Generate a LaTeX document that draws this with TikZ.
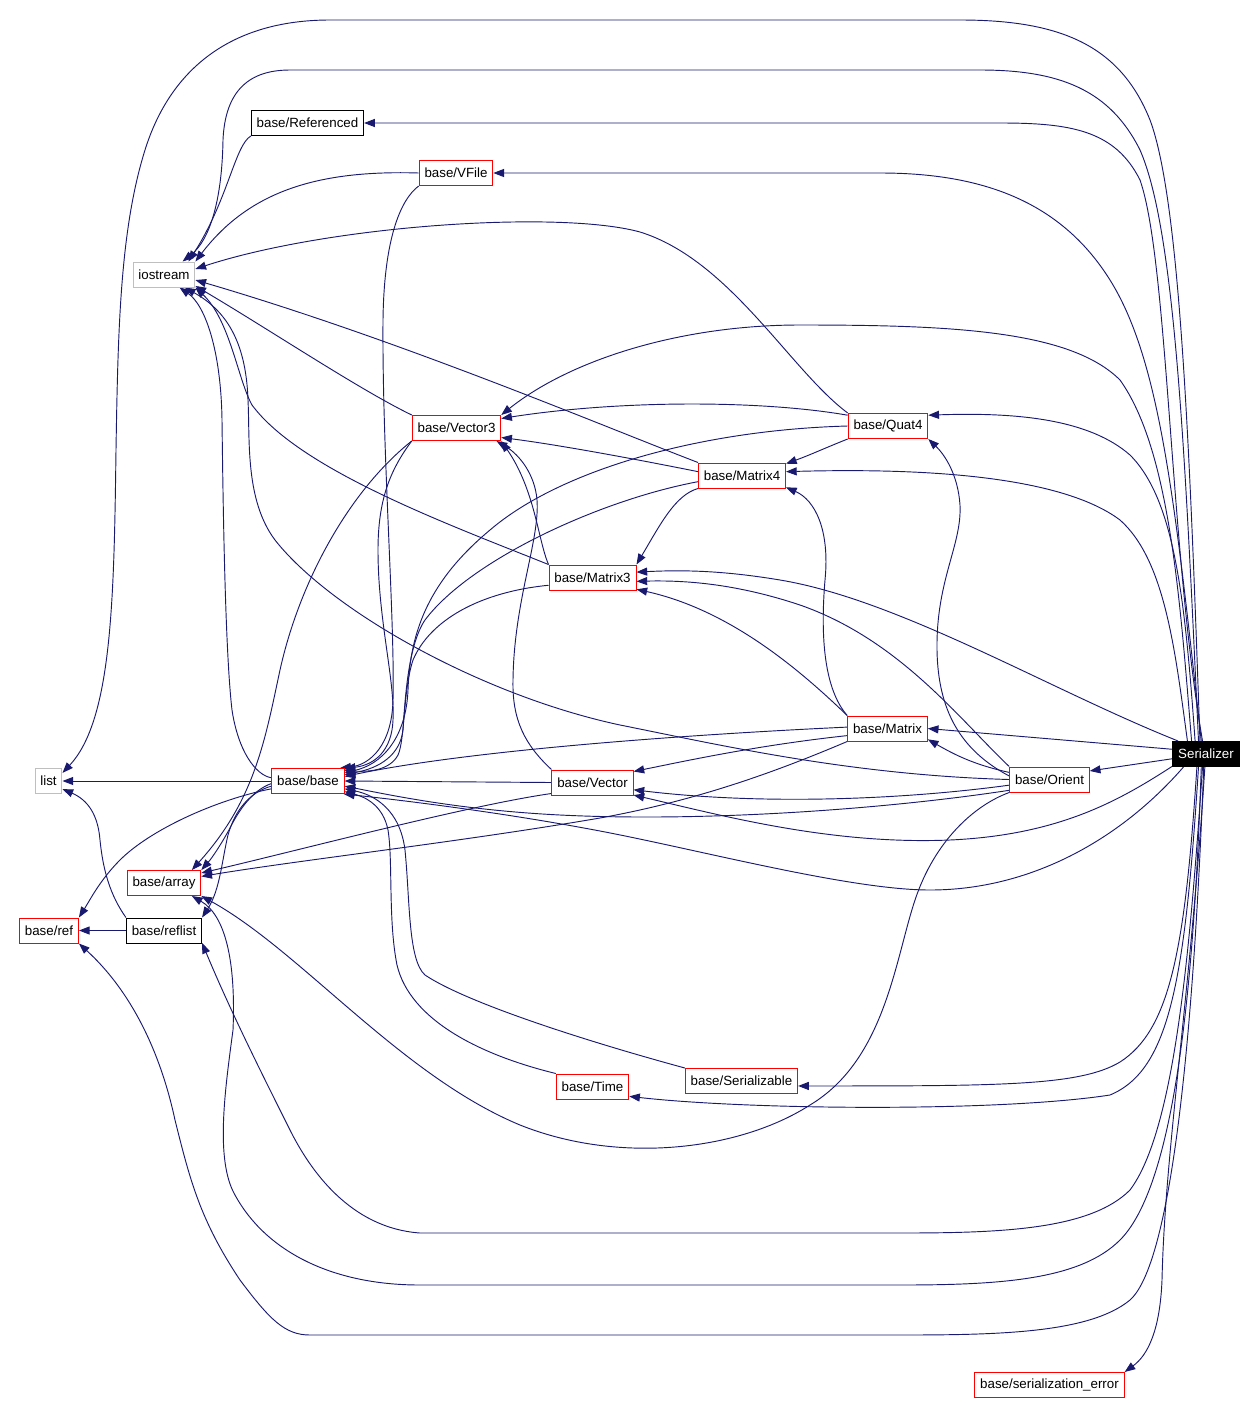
\documentclass[tikz,border=0pt]{standalone}
\usepackage{fontspec}
\setmainfont{Liberation Sans}
\usetikzlibrary{arrows.meta, backgrounds}
\definecolor{edgeblue}{HTML}{191970}
\definecolor{sysgray}{HTML}{BFBFBF}

\begin{document}
\begin{tikzpicture}[x=0.75pt, y=-0.75pt,
  file/.style={draw=red, fill=white, minimum height=18.75pt, inner xsep=4pt, inner ysep=1pt,
               line width=0.75pt, font=\fontsize{10pt}{12pt}\selectfont},
  plainfile/.style={file, draw=black},
  sysfile/.style={file, draw=sysgray},
  rootfile/.style={file, draw=black, fill=black, text=white},
  dep/.style={-{Triangle[length=8pt,width=6pt]}, draw=edgeblue, line width=0.7pt},
]
\useasboundingbox (0,0) rectangle (1256,1403);

% Root
\node[rootfile] (ser) at (1206,754) {Serializer};

% Headers
\node[plainfile] (refd) at (307.5,123) {base/Referenced};
\node[file] (vfile) at (456,173) {base/VFile};
\node[sysfile] (iostr) at (164,274.5) {iostream};
\node[file] (vec3) at (456.5,428) {base/Vector3};
\node[file] (quat4) at (888,426) {base/Quat4};
\node[file] (mat4) at (742,475.5) {base/Matrix4};
\node[file] (mat3) at (592.5,577.5) {base/Matrix3};
\node[file] (bmatrix) at (887.5,728.5) {base/Matrix};
\node[file] (orient) at (1049.5,779.5) {base/Orient};
\node[file] (bbase) at (308,781) {base/base};
\node[file] (bvector) at (592.5,782.5) {base/Vector};
\node[sysfile] (lst) at (48.5,781) {list};
\node[file] (barray) at (164,883) {base/array};
\node[file] (bref) at (49,930.5) {base/ref};
\node[plainfile] (breflist) at (164,930.5) {base/reflist};
\node[file] (btime) at (592.5,1086.5) {base/Time};
\node[file] (serial) at (741.5,1081) {base/Serializable};
\node[file] (serr) at (1049.5,1385) {base/serialization\_error};

\begin{scope}[on background layer]
% Serializer includes
\draw[dep] (ser.105) .. controls (1170,550) and (1168,260) .. (1140,180) .. controls (1115,130) and (1070,123) .. (1000,123) -- (refd.east);
\draw[dep] (ser.110) .. controls (1175,500) and (1160,360) .. (1110,280) .. controls (1060,200) and (980,173) .. (880,173) -- (vfile.east);
\draw[dep] (ser.115) .. controls (1190,450) and (1180,200) .. (1150,120) .. controls (1120,45) and (1060,20) .. (960,20) -- (330,20) .. controls (230,20) and (170,70) .. (145,150) .. controls (120,230) and (118,330) .. (116,450) .. controls (114,600) and (112,720) .. (lst.30);
\draw[dep] (ser.120) .. controls (1185,450) and (1175,230) .. (1140,150) .. controls (1110,90) and (1060,70) .. (980,70) -- (290,70) .. controls (245,70) and (225,95) .. (223,140) .. controls (222,200) and (210,240) .. (iostr.35);
\draw[dep] (ser.130) .. controls (1185,600) and (1175,500) .. (1130,455) .. controls (1090,420) and (1020,412) .. (quat4.15);
\draw[dep] (ser.145) .. controls (1175,650) and (1165,560) .. (1120,520) .. controls (1060,475) and (920,468) .. (mat4.5);
\draw[dep] (ser.138) .. controls (1180,600) and (1170,450) .. (1120,380) .. controls (1070,330) and (950,325) .. (800,325) .. controls (680,325) and (570,360) .. (vec3.north east);
\draw[dep] (ser.155) .. controls (1050,690) and (900,600) .. (780,580) .. controls (720,570) and (680,570) .. (mat3.7);
\draw[dep] (ser.172) -- (bmatrix.east);
\draw[dep] (ser.188) -- (orient.12);
\draw[dep] (ser.200) .. controls (1120,800) and (1060,835) .. (950,840) .. controls (830,845) and (720,815) .. (bvector.-17);
\draw[dep] (ser.-150) .. controls (1120,840) and (1030,890) .. (930,890) .. controls (850,890) and (700,850) .. (600,831) .. controls (500,812) and (400,800) .. (bbase.-20);
\draw[dep] (ser.-110) .. controls (1195,950) and (1180,1180) .. (1120,1240) .. controls (1080,1280) and (1000,1285) .. (900,1285) -- (420,1285) .. controls (330,1285) and (265,1250) .. (235,1195) .. controls (215,1160) and (225,1090) .. (233,1030) .. controls (236,960) and (225,915) .. (barray.-25);
\draw[dep] (ser.-105) .. controls (1190,950) and (1175,1130) .. (1130,1190) .. controls (1090,1230) and (1000,1233) .. (900,1233) -- (420,1233) .. controls (350,1228) and (310,1170) .. (290,1130) .. controls (260,1070) and (230,1010) .. (breflist.-18);
\draw[dep] (ser.-100) .. controls (1195,1000) and (1175,1260) .. (1130,1300) .. controls (1090,1333) and (1000,1335) .. (900,1335) -- (310,1335) .. controls (285,1335) and (270,1320) .. (240,1280) .. controls (200,1220) and (190,1180) .. (175,1120) .. controls (160,1050) and (130,990) .. (bref.south east);
\draw[dep] (ser.-125) .. controls (1185,950) and (1170,1030) .. (1120,1062) .. controls (1080,1086) and (1000,1086) .. (serial.-5);
\draw[dep] (ser.-120) .. controls (1185,980) and (1170,1070) .. (1110,1095) .. controls (1000,1112) and (750,1110) .. (btime.-15);
\draw[dep] (ser.-95) .. controls (1190,1000) and (1165,1150) .. (1162,1280) .. controls (1160,1330) and (1148,1355) .. (serr.north east);

% Upper headers
\draw[dep] (refd.south west) .. controls (235,145) and (228,200) .. (iostr.28);
\draw[dep] (vfile.west) .. controls (320,170) and (250,190) .. (iostr.north east);
\draw[dep] (vfile.south west) .. controls (400,200) and (384,240) .. (383,320) .. controls (382,450) and (395,620) .. (393,700) .. controls (392,745) and (370,765) .. (bbase.22);
\draw[dep] (quat4.north west) .. controls (790,370) and (730,260) .. (640,232) .. controls (560,210) and (330,225) .. (iostr.10);
\draw[dep] (quat4.165) .. controls (760,400) and (620,400) .. (vec3.12);
\draw[dep] (quat4.west) .. controls (700,430) and (560,470) .. (490,530) .. controls (430,580) and (410,630) .. (408,690) .. controls (406,740) and (380,765) .. (bbase.13);
\draw[dep] (quat4.south west) .. controls (825,448) and (810,455) .. (mat4.15);
\draw[dep] (mat4.north west) .. controls (600,425) and (400,340) .. (iostr.-10);
\draw[dep] (mat4.175) .. controls (640,460) and (560,445) .. (vec3.-12);
\draw[dep] (mat4.south west) .. controls (675,495) and (660,525) .. (mat3.north east);
\draw[dep] (mat4.188) .. controls (600,500) and (470,560) .. (425,620) .. controls (408,645) and (405,700) .. (403,730) .. controls (400,755) and (380,768) .. (bbase.10);
\draw[dep] (mat3.north west) .. controls (450,525) and (300,470) .. (252,405) .. controls (238,380) and (230,320) .. (iostr.south east);
\draw[dep] (mat3.north west) .. controls (538,540) and (535,490) .. (vec3.south east);
\draw[dep] (mat3.190) .. controls (480,592) and (430,620) .. (413,660) .. controls (403,690) and (405,740) .. (398,755) .. controls (390,770) and (370,772) .. (bbase.16);
\draw[dep] (vec3.north west) .. controls (360,390) and (270,330) .. (iostr.-20);
\draw[dep] (vec3.south west) .. controls (390,470) and (378,500) .. (378,550) .. controls (378,620) and (395,680) .. (393,720) .. controls (392,750) and (375,765) .. (bbase.19);
\draw[dep] (vec3.south west) .. controls (350,490) and (300,580) .. (280,670) .. controls (265,740) and (255,800) .. (barray.25);

% Middle row
\draw[dep] (bvector.north west) .. controls (525,745) and (512,720) .. (513,680) .. controls (514,600) and (540,540) .. (537,500) .. controls (535,475) and (520,455) .. (vec3.-18);
\draw[dep] (bvector.west) -- (bbase.east);
\draw[dep] (bvector.195) .. controls (470,805) and (300,850) .. (barray.15);
\draw[dep] (bmatrix.178) .. controls (720,733) and (480,748) .. (bbase.7);
\draw[dep] (bmatrix.190) .. controls (760,745) and (690,760) .. (bvector.15);
\draw[dep] (bmatrix.south west) .. controls (780,770) and (700,800) .. (600,818) .. controls (460,842) and (300,860) .. (barray.10);
\draw[dep] (bmatrix.north west) .. controls (825,690) and (820,640) .. (825,580) .. controls (830,530) and (815,500) .. (mat4.-15);
\draw[dep] (bmatrix.north west) .. controls (800,670) and (730,610) .. (mat3.-15);
\draw[dep] (orient.175) .. controls (960,750) and (938,710) .. (937,650) .. controls (936,580) and (962,545) .. (960,505) .. controls (958,475) and (945,455) .. (quat4.south east);
\draw[dep] (orient.170) .. controls (975,765) and (955,755) .. (bmatrix.-15);
\draw[dep] (orient.north west) .. controls (960,720) and (900,640) .. (800,605) .. controls (740,585) and (690,580) .. (mat3.-5);
\draw[dep] (orient.180) .. controls (850,775) and (720,745) .. (620,725) .. controls (480,695) and (330,610) .. (275,540) .. controls (245,500) and (250,440) .. (248,400) .. controls (246,340) and (225,310) .. (iostr.-32);
\draw[dep] (orient.188) .. controls (900,800) and (760,805) .. (bvector.-10);
\draw[dep] (orient.195) .. controls (880,810) and (700,822) .. (560,815) .. controls (460,810) and (390,795) .. (bbase.-8);
\draw[dep] (orient.south west) .. controls (975,805) and (935,840) .. (915,900) .. controls (895,960) and (885,1060) .. (810,1105) .. controls (740,1150) and (620,1165) .. (520,1125) .. controls (400,1075) and (300,950) .. (barray.south east);

% Left column
\draw[dep] (bbase.west) -- (lst.east);
\draw[dep] (bbase.175) .. controls (255,775) and (238,750) .. (232,710) .. controls (225,650) and (223,500) .. (222,420) .. controls (221,350) and (205,305) .. (iostr.-40);
\draw[dep] (bbase.192) .. controls (215,800) and (150,830) .. (120,860) .. controls (100,880) and (90,900) .. (bref.north east);
\draw[dep] (bbase.184) .. controls (252,790) and (238,812) .. (230,828) .. controls (222,843) and (212,858) .. (barray.north east);
\draw[dep] (bbase.188) .. controls (250,792) and (235,810) .. (228,835) .. controls (222,860) and (220,890) .. (breflist.north east);
\draw[dep] (breflist.north west) .. controls (110,895) and (103,870) .. (100,840) .. controls (98,815) and (88,800) .. (lst.-30);
\draw[dep] (breflist.west) -- (bref.east);

% Lower headers
\draw[dep] (serial.north west) .. controls (600,1045) and (470,1005) .. (425,975) .. controls (408,960) and (410,900) .. (405,850) .. controls (400,810) and (375,795) .. (bbase.-12);
\draw[dep] (btime.north west) .. controls (480,1055) and (410,1020) .. (397,965) .. controls (388,920) and (393,860) .. (388,830) .. controls (383,805) and (365,797) .. (bbase.-16);
\end{scope}

\end{tikzpicture}
\end{document}
